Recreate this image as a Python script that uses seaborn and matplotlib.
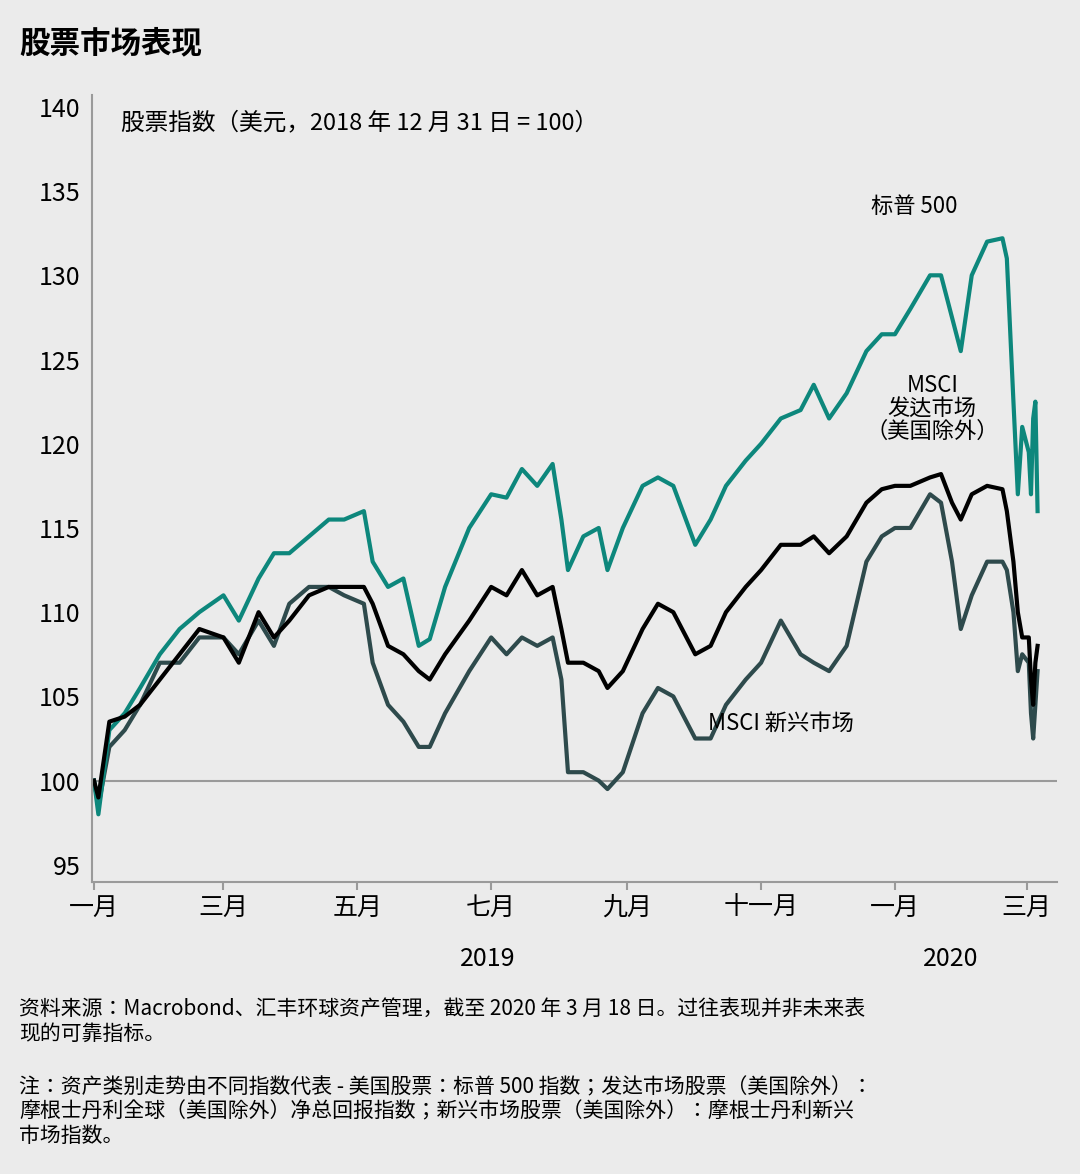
import matplotlib
matplotlib.use("Agg")
import matplotlib.pyplot as plt
from matplotlib import font_manager as fm
import seaborn as sns
import pandas as pd

cjk = None
for f in fm.fontManager.ttflist:
    if "CJK" in f.name and "SC" in f.name:
        cjk = f.name; break
if cjk is None:
    for f in fm.fontManager.ttflist:
        if "CJK" in f.name:
            cjk = f.name; break
if cjk is None:
    import glob
    for p in glob.glob("/usr/share/fonts/**/*CJK*", recursive=True):
        try:
            fm.fontManager.addfont(p)
        except Exception:
            pass
    for f in fm.fontManager.ttflist:
        if "CJK" in f.name:
            cjk = f.name; break
plt.rcParams["font.family"] = "sans-serif"
plt.rcParams["font.sans-serif"] = [cjk or "Noto Sans CJK SC", "DejaVu Sans"]

dates = ["2019-01-01","2019-01-03","2019-01-08","2019-01-15","2019-01-22","2019-01-31","2019-02-09","2019-02-18",
         "2019-03-01","2019-03-08","2019-03-17","2019-03-24","2019-03-31","2019-04-09","2019-04-18","2019-04-25",
         "2019-05-04","2019-05-08","2019-05-15","2019-05-22","2019-05-29","2019-06-03","2019-06-10","2019-06-21",
         "2019-07-01","2019-07-08","2019-07-15","2019-07-22","2019-07-29","2019-08-02","2019-08-05","2019-08-12",
         "2019-08-19","2019-08-23","2019-08-30","2019-09-08","2019-09-15","2019-09-22","2019-10-02","2019-10-09",
         "2019-10-16","2019-10-25","2019-11-01","2019-11-10","2019-11-19","2019-11-25","2019-12-02","2019-12-10",
         "2019-12-19","2019-12-26","2020-01-01","2020-01-08","2020-01-17","2020-01-22","2020-01-27","2020-01-31",
         "2020-02-05","2020-02-12","2020-02-19","2020-02-21","2020-02-24","2020-02-26","2020-02-28","2020-03-02",
         "2020-03-03","2020-03-04","2020-03-05","2020-03-06"]

sp500 = [100,98,103,104,105.5,107.5,109,110,111,109.5,112,113.5,113.5,114.5,115.5,115.5,
         116,113,111.5,112,108,108.4,111.5,115,117,116.8,118.5,117.5,118.8,115.5,112.5,114.5,
         115,112.5,115,117.5,118,117.5,114,115.5,117.5,119,120,121.5,122,123.5,121.5,123,
         125.5,126.5,126.5,128,130,130,127.5,125.5,130,132,132.2,131,122.5,117,121,119.5,
         117,121.5,122.5,116]
msci_dev = [100,99,103.5,103.8,104.5,106,107.5,109,108.5,107,110,108.5,109.5,111,111.5,111.5,
            111.5,110.5,108,107.5,106.5,106,107.5,109.5,111.5,111,112.5,111,111.5,109,107,107,
            106.5,105.5,106.5,109,110.5,110,107.5,108,110,111.5,112.5,114,114,114.5,113.5,114.5,
            116.5,117.3,117.5,117.5,118,118.2,116.5,115.5,117,117.5,117.3,116,113,110,108.5,108.5,
            106,104.5,107,108]
msci_em = [100,98.5,102,103,104.5,107,107,108.5,108.5,107.5,109.5,108,110.5,111.5,111.5,111,
           110.5,107,104.5,103.5,102,102,104,106.5,108.5,107.5,108.5,108,108.5,106,100.5,100.5,
           100,99.5,100.5,104,105.5,105,102.5,102.5,104.5,106,107,109.5,107.5,107,106.5,108,
           113,114.5,115,115,117,116.5,113,109,111,113,113,112.5,110,106.5,107.5,107,
           104,102.5,104.5,106.5]

tick_dates = ["2019-01-01","2019-03-01","2019-05-01","2019-07-01","2019-09-01","2019-11-01","2020-01-01","2020-03-01"]
tick_labels = ["一月","三月","五月","七月","九月","十一月","一月","三月"]
y_ticks = [95,100,105,110,115,120,125,130,135,140]

bg = "#ebebeb"
df = pd.DataFrame({"date": pd.to_datetime(dates), "sp": sp500, "dev": msci_dev, "em": msci_em})

fig = plt.figure(figsize=(10.8, 11.74), dpi=100, facecolor=bg)
ax = fig.add_axes([0.085, 0.249, 0.894, 0.670], facecolor=bg)
ax.axhline(100, color="#9a9a9a", lw=1.5, zorder=1)
sns.lineplot(data=df, x="date", y="em", ax=ax, color="#2e4a4c", lw=3)
sns.lineplot(data=df, x="date", y="sp", ax=ax, color="#0d877c", lw=3)
sns.lineplot(data=df, x="date", y="dev", ax=ax, color="#000000", lw=3)

ax.set_ylim(94, 140.7)
ax.set_xlim(pd.Timestamp("2018-12-31"), pd.Timestamp("2020-03-15"))
ax.set_yticks(y_ticks)
ax.set_xticks(pd.to_datetime(tick_dates))
ax.set_xticklabels(tick_labels)
ax.tick_params(axis="both", labelsize=18, color="#9a9a9a")
ax.tick_params(axis="y", length=0, pad=8)
ax.tick_params(axis="x", length=6, width=1.5)
ax.set_xlabel(""); ax.set_ylabel("")
for s in ["top", "right"]:
    ax.spines[s].set_visible(False)
for s in ["left", "bottom"]:
    ax.spines[s].set_color("#9a9a9a"); ax.spines[s].set_linewidth(1.5)

ax.text(0.03, 0.965, "股票指数（美元，2018 年 12 月 31 日 = 100）", transform=ax.transAxes, fontsize=17, va="center")
ax.text(pd.Timestamp("2020-01-10"), 134.1, "标普 500", fontsize=16, ha="center", va="center")
ax.text(pd.Timestamp("2020-01-18"), 122.1, "MSCI\n发达市场\n（美国除外）", fontsize=16, ha="center", va="center", linespacing=1.0)
ax.text(pd.Timestamp("2019-10-08"), 103.4, "MSCI 新兴市场", fontsize=16, ha="left", va="center")

fig.text(0.452, 0.183, "2019", fontsize=18, ha="center", va="center")
fig.text(0.880, 0.183, "2020", fontsize=18, ha="center", va="center")
fig.text(0.018, 0.963, "股票市场表现", fontsize=22, fontweight="bold", va="center")
fig.text(0.018, 0.130, "资料来源：Macrobond、汇丰环球资产管理，截至 2020 年 3 月 18 日。过往表现并非未来表\n现的可靠指标。",
         fontsize=15, va="center", linespacing=1.15)
fig.text(0.018, 0.053, "注：资产类别走势由不同指数代表 - 美国股票：标普 500 指数；发达市场股票（美国除外）：\n摩根士丹利全球（美国除外）净总回报指数；新兴市场股票（美国除外）：摩根士丹利新兴\n市场指数。",
         fontsize=15, va="center", linespacing=1.15)

fig.savefig("out.png", dpi=100, facecolor=bg)
